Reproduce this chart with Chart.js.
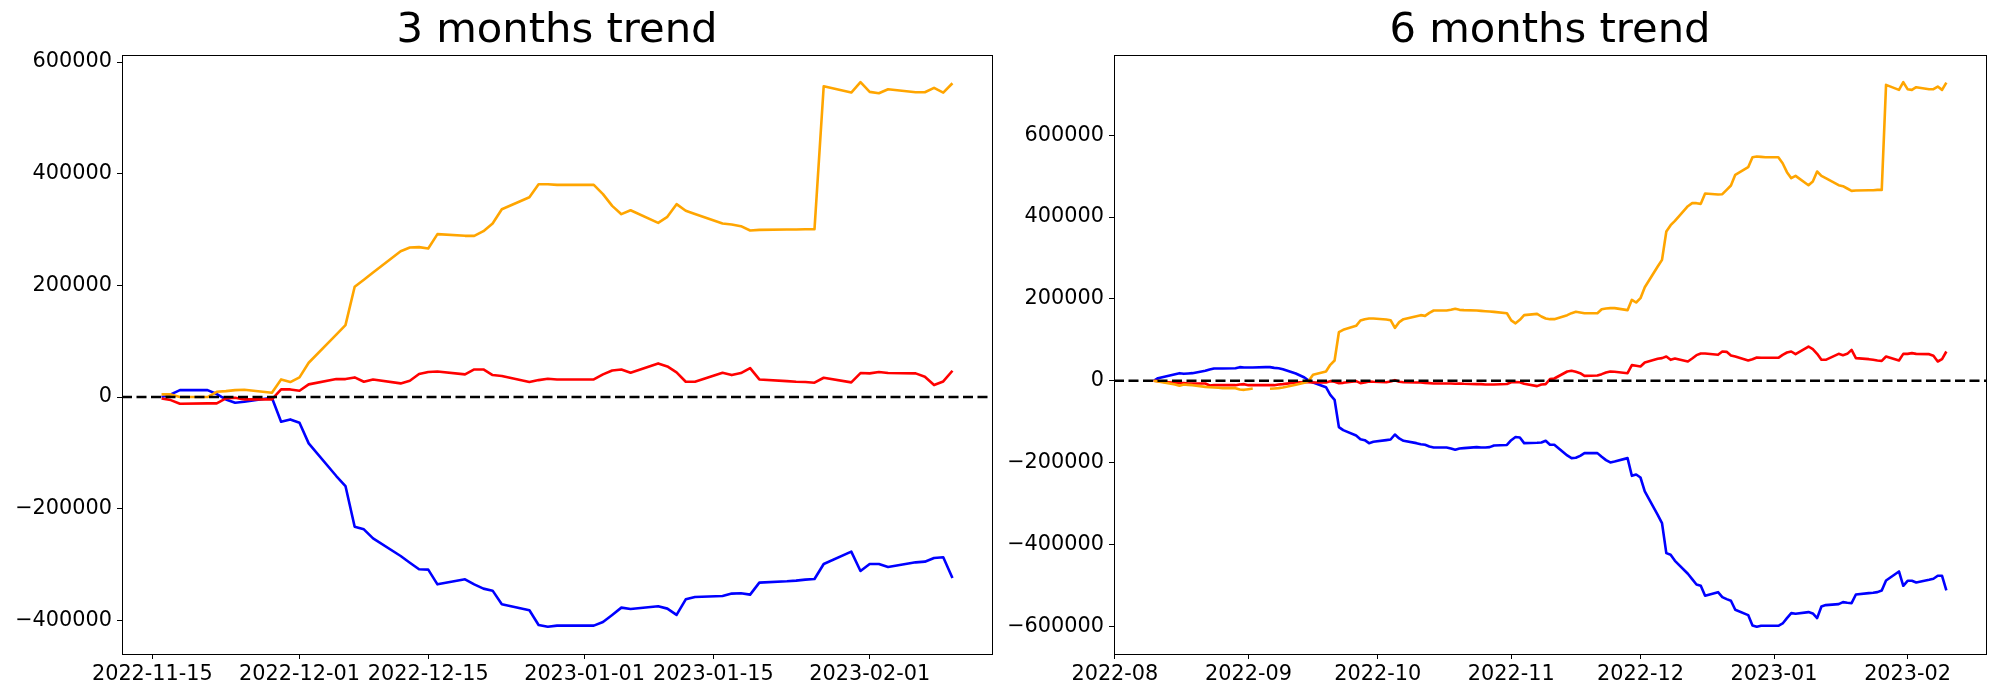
<!DOCTYPE html>
<html><head><meta charset="utf-8">
<script src="https://cdn.jsdelivr.net/npm/chart.js@4/dist/chart.umd.min.js"></script>
<style>
html,body{margin:0;padding:0;background:#fff;}
#wrap{position:relative;width:2000px;height:700px;background:#fff;}
.box{position:absolute;top:0;width:1000px;height:700px;}
</style></head><body>
<div id="wrap">
<div class="box" style="left:0"><canvas id="c3" width="1000" height="700"></canvas></div>
<div class="box" style="left:1000px"><canvas id="c6" width="1000" height="700"></canvas></div>
</div>
<script>
// ---------- 6 months trend ----------
const dates6 = [
'2022-08-10','2022-08-11','2022-08-12',
'2022-08-15','2022-08-16','2022-08-17','2022-08-18','2022-08-19',
'2022-08-22','2022-08-23','2022-08-24','2022-08-25','2022-08-26',
'2022-08-29','2022-08-30','2022-08-31','2022-09-01','2022-09-02',
'2022-09-05','2022-09-06','2022-09-07','2022-09-08','2022-09-09',
'2022-09-12','2022-09-13','2022-09-14','2022-09-15','2022-09-16',
'2022-09-19','2022-09-20','2022-09-21','2022-09-22','2022-09-23',
'2022-09-26','2022-09-27','2022-09-28','2022-09-29','2022-09-30',
'2022-10-03','2022-10-04','2022-10-05','2022-10-06','2022-10-07',
'2022-10-10','2022-10-11','2022-10-12','2022-10-13','2022-10-14',
'2022-10-17','2022-10-18','2022-10-19','2022-10-20','2022-10-21',
'2022-10-24','2022-10-25','2022-10-26','2022-10-27','2022-10-28',
'2022-10-31','2022-11-01','2022-11-02','2022-11-03','2022-11-04',
'2022-11-07','2022-11-08','2022-11-09','2022-11-10','2022-11-11',
'2022-11-14','2022-11-15','2022-11-16','2022-11-17','2022-11-18',
'2022-11-21','2022-11-22','2022-11-23','2022-11-24','2022-11-25',
'2022-11-28','2022-11-29','2022-11-30','2022-12-01','2022-12-02',
'2022-12-05','2022-12-06','2022-12-07','2022-12-08','2022-12-09',
'2022-12-12','2022-12-13','2022-12-14','2022-12-15','2022-12-16',
'2022-12-19','2022-12-20','2022-12-21','2022-12-22','2022-12-23',
'2022-12-26','2022-12-27','2022-12-28','2022-12-29','2022-12-30',
'2023-01-02','2023-01-03','2023-01-04','2023-01-05','2023-01-06',
'2023-01-09','2023-01-10','2023-01-11','2023-01-12','2023-01-13',
'2023-01-16','2023-01-17','2023-01-18','2023-01-19','2023-01-20',
'2023-01-23','2023-01-24','2023-01-25','2023-01-26','2023-01-27',
'2023-01-30','2023-01-31','2023-02-01','2023-02-02','2023-02-03',
'2023-02-06','2023-02-07','2023-02-08','2023-02-09','2023-02-10'];

const orange6 = [
0,-1600,-3300,
-9000,-12200,-9000,-9800,-10600,
-14700,-15500,-16300,-17100,-17900,
-17900,-21200,-22000,-20400,-18700,
null,-19500,-18700,-17900,-16300,
-9800,-7300,-4900,0,14700,
22800,39100,49700,118800,124500,
134300,147300,150600,152200,152200,
149800,148100,129400,143300,150600,
157900,160400,158700,166100,171800,
171800,173400,175800,173400,172600,
171800,170900,170100,169300,168500,
165000,147500,140400,149000,160400,
163600,157100,152200,150600,150600,
160400,165200,168500,166900,165200,
165200,175000,176600,177500,177500,
172600,197800,191300,201900,228700,
279200,295500,364700,380100,390700,
426500,433900,433900,432200,457500,
455000,455800,466400,477000,503100,
521800,546200,547800,547000,546200,
546200,531500,509600,494900,500600,
477800,486800,511200,500600,494900,
477800,475400,469700,464000,464800,
465600,465600,466400,466400,722800,
710600,729300,712300,710600,717100,
712300,712300,718800,710600,728500];

const red6 = [
0,-800,-2400,
-4900,-5700,-5700,-6500,-6500,
-6500,-11400,-10600,-10600,-10600,
-10600,-9000,-8100,-10600,-10600,
-10600,-10600,-10600,-9000,-8100,
-4100,-3300,-3300,-3300,-4100,
-4100,-800,-2400,-5700,-4900,
-800,-5700,-4100,-1600,-2400,
-3300,-1600,1600,-2400,-3300,
-4100,-4100,-4900,-5700,-6500,
-6500,-6500,-7300,-6500,-7300,
-8100,-8100,-9000,-9000,-9000,
-7700,-3300,-2800,-3300,-7300,
-13000,-9000,-8100,4100,5700,
22800,24400,22000,18700,12200,
13000,16300,20400,22800,22000,
18700,38300,36600,35000,44800,
53700,55400,59400,51300,54500,
47200,54500,62700,66700,66700,
63500,71600,70800,61900,59400,
49700,52900,57000,56200,56200,
56200,63500,69200,71600,65100,
83800,77300,65900,51300,51300,
65900,62700,65900,75700,55400,
52900,51300,49700,48800,59400,
49700,65900,65900,67600,65900,
65100,61100,47200,52900,71600];

const blue6 = [
0,6500,9000,
16300,18700,17100,17900,18700,
24400,27700,30100,30100,30100,
30900,33400,32600,32600,32600,
33400,33400,31700,30900,28500,
17900,13000,8100,800,-4100,
-15500,-34200,-46400,-113100,-120500,
-133500,-142500,-144900,-152200,-149000,
-144900,-143300,-131100,-140800,-146500,
-152200,-154700,-156300,-160400,-162800,
-162800,-165200,-168500,-165200,-164400,
-162000,-162800,-162800,-162000,-157900,
-156700,-145000,-137200,-138400,-152200,
-151400,-150600,-146500,-156300,-156300,
-182300,-188800,-188000,-183200,-176600,
-176600,-185600,-193700,-199400,-197000,
-188800,-232000,-228700,-236100,-270200,
-327200,-347600,-420800,-424900,-439600,
-471300,-484300,-497400,-500600,-525000,
-516100,-528300,-533200,-537200,-559200,
-572200,-597500,-600700,-598300,-598300,
-598300,-592600,-579600,-567400,-569000,
-564900,-568200,-579600,-551100,-547800,
-545400,-540500,-542100,-542900,-521800,
-518500,-517700,-516100,-512000,-487700,
-465600,-500600,-488400,-488400,-492500,
-486000,-483500,-476200,-476200,-512000];

const xTickLabels6 = ['2022-08','2022-09','2022-10','2022-11','2022-12','2023-01','2023-02'];
const yTicks6 = [-600000,-400000,-200000,0,200000,400000,600000];

// ---------- 3 months trend ----------
const dates3 = dates6.slice(dates6.indexOf('2022-11-16'));

const orange3 = [
4800,4800,0,
0,9500,10700,12500,13100,
7800,31600,26900,35200,61500,
112000,128900,197500,210000,223200,
261300,267900,268500,266100,291800,
288800,288800,297200,310900,336500,
358000,381300,381300,380100,380100,
380100,363400,342500,327600,334700,
312100,322800,345500,333600,327800,
310900,309100,306100,298400,299500,
300100,300100,300700,300700,556700,
545400,563900,546600,544200,551300,
546000,546000,553700,545400,562100];

const red3 = [
-2400,-5400,-11900,
-11300,-11300,-2400,-1200,-4200,
-4200,13700,13700,11300,22700,
32200,32200,35200,27400,31600,
24500,29200,41200,44800,45900,
40600,49500,49500,39400,37600,
26900,30400,32800,31600,31600,
31600,40600,47700,49500,43600,
60300,54900,44200,27400,27400,
43600,39400,43000,51900,31600,
28600,27400,26900,25700,34600,
26300,43000,42400,44800,43000,
42400,36400,21500,28000,47100];

const blue3 = [
0,4800,12500,
12500,5400,-4200,-10100,-8400,
-1200,-44200,-40000,-45900,-82900,
-141400,-159300,-232100,-236900,-253000,
-284600,-296600,-308500,-309100,-335400,
-326400,-335400,-343100,-346700,-371200,
-381900,-408200,-411400,-409300,-409300,
-409300,-402800,-390200,-377100,-379500,
-374700,-378900,-390200,-362200,-358000,
-356200,-352000,-351400,-353800,-332300,
-330000,-328800,-327000,-325800,-298900,
-276900,-311500,-298900,-298900,-304300,
-296000,-294800,-288200,-287000,-324000];

const xTickLabels3 = ['2022-11-15','2022-12-01','2022-12-15','2023-01-01','2023-01-15','2023-02-01'];
const yTicks3 = [-400000,-200000,0,200000,400000,600000];

const titles = ['3 months trend','6 months trend'];

// ---------- helpers ----------
function toDay(s){
  const p = s.split('-').map(Number);
  return Date.UTC(p[0], p[1]-1, p.length > 2 ? p[2] : 1) / 86400000;
}
function fmtNum(v){ return v < 0 ? '\u2212' + Math.abs(v) : String(v); }

const FONT = "'DejaVu Sans', sans-serif";

const framePlugin = {
  id: 'frame',
  afterDraw(chart){
    const a = chart.chartArea, c = chart.ctx;
    c.save();
    c.strokeStyle = '#000';
    c.lineWidth = 1;
    c.strokeRect(Math.round(a.left)+0.5, Math.round(a.top)+0.5,
                 Math.round(a.right-a.left), Math.round(a.bottom-a.top));
    c.restore();
  }
};

function makeChart(id, title, dates, orange, red, blue, xTickLabels, yTicks, yAxisW, rightPad){
  const xs = dates.map(toDay);
  const first = xs[0], last = xs[xs.length-1];
  const xSpan = last - first;
  const xMin = first - 0.05*xSpan, xMax = last + 0.05*xSpan;
  const all = [].concat(orange, red, blue, [0]).filter(v => v !== null);
  const lo = Math.min(...all), hi = Math.max(...all);
  const ySpan = hi - lo;
  const yMin = lo - 0.05*ySpan, yMax = hi + 0.05*ySpan;

  const tickDays = xTickLabels.map(toDay);
  const labelMap = {};
  tickDays.forEach((d,i) => { labelMap[d] = xTickLabels[i]; });

  const series = (vals, color) => ({
    data: xs.map((x,i) => ({x: x, y: vals[i]})),
    borderColor: color, backgroundColor: color,
    borderWidth: 2.6, pointRadius: 0, tension: 0, spanGaps: false,
    borderJoinStyle: 'round', borderCapStyle: 'butt', fill: false
  });

  return new Chart(document.getElementById(id), {
    type: 'line',
    data: { datasets: [
      { data: [{x:xMin,y:0},{x:xMax,y:0}], borderColor:'#000', borderWidth:2.5,
        borderDash:[10,4.5], pointRadius:0, fill:false },
      series(orange, '#FFA500'),
      series(red, '#FF0000'),
      series(blue, '#0000FF')
    ]},
    options: {
      responsive: false, animation: false, devicePixelRatio: 1,
      layout: { padding: { left: 0, right: rightPad, top: 0, bottom: 0 } },
      plugins: {
        legend: { display: false },
        tooltip: { enabled: false },
        title: { display: true, text: title, fullSize: false, color: '#000',
          font: { family: FONT, size: 41.7, weight: 'normal', lineHeight: 1 },
          padding: { top: 10, bottom: 3.3 } }
      },
      scales: {
        x: {
          type: 'linear', position: 'bottom', min: xMin, max: xMax,
          afterBuildTicks: s => { s.ticks = tickDays.map(v => ({ value: v })); },
          afterFit: s => { s.height = 46; },
          ticks: { autoSkip: false, maxRotation: 0, minRotation: 0, color: '#000',
            font: { family: FONT, size: 20.8 }, padding: 3,
            callback: v => labelMap[v] },
          grid: { drawOnChartArea: false, drawTicks: true, tickLength: 5, color: '#000', lineWidth: 1 },
          border: { display: true, color: '#000', width: 1 }
        },
        y: {
          type: 'linear', position: 'left', min: yMin, max: yMax,
          afterBuildTicks: s => { s.ticks = yTicks.map(v => ({ value: v })); },
          afterFit: s => { s.width = yAxisW; },
          ticks: { autoSkip: false, color: '#000', font: { family: FONT, size: 20.8 }, padding: 5,
            callback: v => fmtNum(v) },
          grid: { drawOnChartArea: false, drawTicks: true, tickLength: 5, color: '#000', lineWidth: 1 },
          border: { display: true, color: '#000', width: 1 }
        }
      }
    },
    plugins: [framePlugin]
  });
}

makeChart('c3', titles[0], dates3, orange3, red3, blue3, xTickLabels3, yTicks3, 122, 8);
makeChart('c6', titles[1], dates6, orange6, red6, blue6, xTickLabels6, yTicks6, 114, 14);
</script>
</body></html>
